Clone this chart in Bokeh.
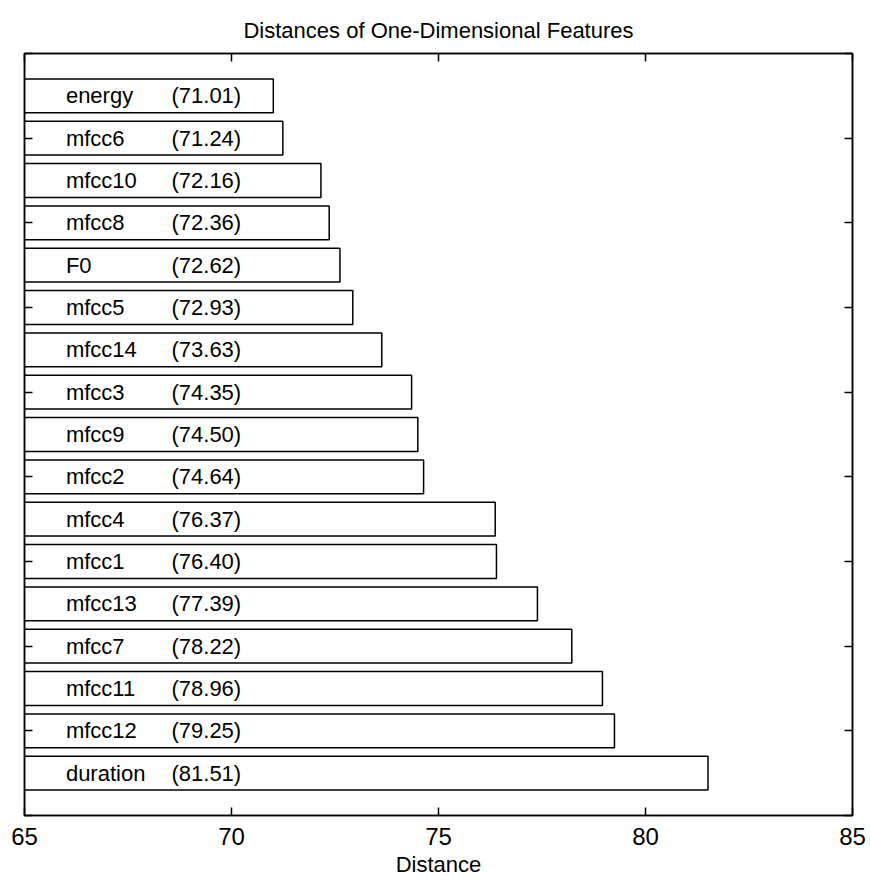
from bokeh.plotting import figure
from bokeh.models import Range1d, LinearAxis, FixedTicker, CustomJSTickFormatter, ColumnDataSource
from bokeh.core.properties import value
from bokeh.embed import file_html
from bokeh.resources import INLINE

features = ["energy", "mfcc6", "mfcc10", "mfcc8", "F0", "mfcc5", "mfcc14", "mfcc3",
            "mfcc9", "mfcc2", "mfcc4", "mfcc1", "mfcc13", "mfcc7", "mfcc11", "mfcc12", "duration"]
distances = [71.01, 71.24, 72.16, 72.36, 72.62, 72.93, 73.63, 74.35,
             74.50, 74.64, 76.37, 76.40, 77.39, 78.22, 78.96, 79.25, 81.51]
x_ticks = [65, 70, 75, 80, 85]
y_ticks = [0, 2, 4, 6, 8, 10, 12, 14, 16, 18]

FONT = "Liberation Sans"
pos = list(range(1, len(features) + 1))
src = ColumnDataSource(dict(
    y=pos, right=distances, name=features,
    val=["(%.2f)" % d for d in distances],
))

p = figure(width=870, height=881, output_backend="svg", toolbar_location=None,
           x_range=Range1d(65, 85), y_range=Range1d(18, 0),
           x_axis_location=None, y_axis_location=None,
           min_border_left=24, min_border_right=18, min_border_top=53, min_border_bottom=66,
           title="Distances of One-Dimensional Features")
p.title.align = "center"
p.title.text_font = FONT
p.title.text_font_size = "22px"
p.title.text_font_style = "normal"
p.title.text_color = "black"
p.title.standoff = 22
p.grid.visible = False
p.outline_line_color = "black"
p.outline_line_width = 1.5
p.background_fill_color = "white"
p.border_fill_color = "white"

p.hbar(y="y", left=65, right="right", height=0.8, source=src,
       fill_color="white", line_color="black", line_width=1.5)
p.text(x=66, y="y", text="name", source=src, text_baseline="middle",
       text_font=value(FONT), text_font_size="22px", text_color="black")
p.text(x=68.55, y="y", text="val", source=src, text_baseline="middle",
       text_font=value(FONT), text_font_size="22px", text_color="black")

blank = CustomJSTickFormatter(code="return ''")

def style(ax):
    ax.major_tick_in = 8
    ax.major_tick_out = 0
    ax.minor_tick_in = 0
    ax.minor_tick_out = 0
    ax.axis_line_color = "black"
    ax.axis_line_width = 1.5
    ax.major_tick_line_color = "black"
    ax.major_tick_line_width = 1.5

xb = LinearAxis(ticker=FixedTicker(ticks=x_ticks), axis_label="Distance")
style(xb)
xb.major_label_text_font = FONT
xb.major_label_text_font_size = "24px"
xb.major_label_text_color = "black"
xb.major_label_standoff = 12
xb.axis_label_text_font = FONT
xb.axis_label_text_font_size = "22px"
xb.axis_label_text_font_style = "normal"
xb.axis_label_text_color = "black"
xb.axis_label_standoff = 4
p.add_layout(xb, "below")

xt = LinearAxis(ticker=FixedTicker(ticks=x_ticks), formatter=blank, major_label_standoff=0)
style(xt)
p.add_layout(xt, "above")

yl = LinearAxis(ticker=FixedTicker(ticks=y_ticks), formatter=blank, major_label_standoff=0)
style(yl)
p.add_layout(yl, "left")
yr = LinearAxis(ticker=FixedTicker(ticks=y_ticks), formatter=blank, major_label_standoff=0)
style(yr)
p.add_layout(yr, "right")

open("out.html", "w").write(file_html(p, INLINE))
